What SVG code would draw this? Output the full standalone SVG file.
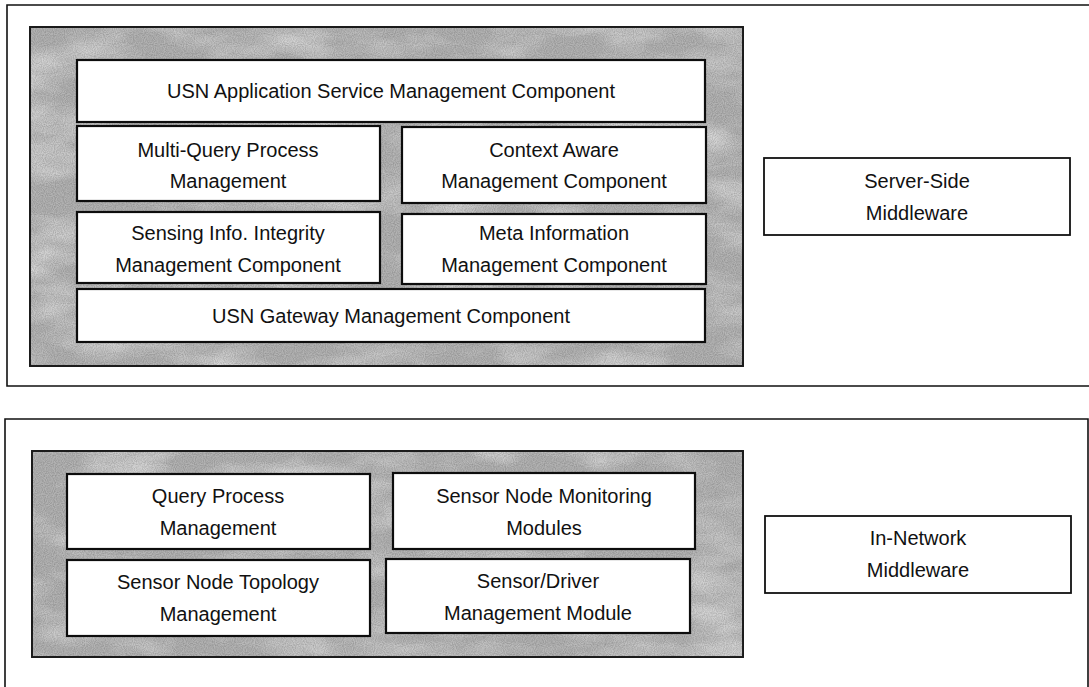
<svg xmlns="http://www.w3.org/2000/svg" width="1089" height="687" viewBox="0 0 1089 687">
  <defs>
    <style>
      .frame { fill: none; stroke: #111; stroke-width: 1.6; }
      .panel { fill: #b3b3b3; stroke: #1a1a1a; stroke-width: 1.8; }
      .box { fill: #ffffff; stroke: #0d0d0d; stroke-width: 2.2; }
      .side { fill: #ffffff; stroke: #111; stroke-width: 1.8; }
      .lbl { font-family: "Liberation Sans", Arial, sans-serif; font-size: 20px; fill: #111; text-anchor: middle; }
    </style>
    <filter id="mottle" x="0%" y="0%" width="100%" height="100%">
      <feTurbulence type="fractalNoise" baseFrequency="0.012 0.028" numOctaves="4" seed="7" result="n"/>
      <feColorMatrix in="n" type="matrix" values="0 0 0 0 1  0 0 0 0 1  0 0 0 0 1  1.9 0 0 0 -0.78" result="light"/>
      <feComposite in="light" in2="SourceAlpha" operator="in"/>
    </filter>
    <filter id="grain" x="0%" y="0%" width="100%" height="100%">
      <feTurbulence type="fractalNoise" baseFrequency="0.9" numOctaves="1" seed="3" result="g"/>
      <feColorMatrix in="g" type="matrix" values="0 0 0 0 0  0 0 0 0 0  0 0 0 0 0  1.4 0 0 0 -0.45" result="dark"/>
      <feComposite in="dark" in2="SourceAlpha" operator="in"/>
    </filter>
  </defs>

  <rect width="1089" height="687" fill="#ffffff"/>

  <!-- outer frames -->
  <g id="server-frame">
    <path class="frame" d="M1089,5 H7 V386 H1089"/>
  </g>
  <g id="innet-frame">
    <path class="frame" d="M5,687 V419 H1088 V687"/>
  </g>

  <!-- shaded panels -->
  <g id="server-panel">
    <rect class="panel" x="30" y="27" width="713" height="339"/>
    <rect x="30" y="27" width="713" height="339" fill="#fff" opacity="0.6" filter="url(#mottle)"/>
    <rect x="30" y="27" width="713" height="339" fill="#000" opacity="0.25" filter="url(#grain)"/>
    <rect x="30" y="27" width="713" height="339" fill="none" stroke="#1a1a1a" stroke-width="1.8"/>
  </g>
  <g id="innet-panel">
    <rect class="panel" x="32" y="451" width="711" height="206"/>
    <rect x="32" y="451" width="711" height="206" fill="#fff" opacity="0.6" filter="url(#mottle)"/>
    <rect x="32" y="451" width="711" height="206" fill="#000" opacity="0.25" filter="url(#grain)"/>
    <rect x="32" y="451" width="711" height="206" fill="none" stroke="#1a1a1a" stroke-width="1.8"/>
  </g>

  <!-- server-side components -->
  <g id="usn-app">
    <rect class="box" x="77" y="60" width="628" height="62"/>
    <text class="lbl" x="391" y="98">USN Application Service Management Component</text>
  </g>
  <g id="multi-query">
    <rect class="box" x="77" y="126" width="303" height="75"/>
    <text class="lbl" x="228" y="157">Multi-Query Process</text>
    <text class="lbl" x="228" y="188">Management</text>
  </g>
  <g id="context-aware">
    <rect class="box" x="402" y="127" width="304" height="76"/>
    <text class="lbl" x="554" y="157">Context Aware</text>
    <text class="lbl" x="554" y="188">Management Component</text>
  </g>
  <g id="sensing-integrity">
    <rect class="box" x="77" y="212" width="303" height="71"/>
    <text class="lbl" x="228" y="240">Sensing Info. Integrity</text>
    <text class="lbl" x="228" y="272">Management Component</text>
  </g>
  <g id="meta-info">
    <rect class="box" x="402" y="214" width="304" height="70"/>
    <text class="lbl" x="554" y="240">Meta Information</text>
    <text class="lbl" x="554" y="272">Management Component</text>
  </g>
  <g id="usn-gateway">
    <rect class="box" x="77" y="289" width="628" height="53"/>
    <text class="lbl" x="391" y="323">USN Gateway Management Component</text>
  </g>
  <g id="server-side">
    <rect class="side" x="764" y="158" width="306" height="77"/>
    <text class="lbl" x="917" y="188">Server-Side</text>
    <text class="lbl" x="917" y="220">Middleware</text>
  </g>

  <!-- in-network components -->
  <g id="query-process">
    <rect class="box" x="67" y="474" width="303" height="75"/>
    <text class="lbl" x="218" y="503">Query Process</text>
    <text class="lbl" x="218" y="535">Management</text>
  </g>
  <g id="sensor-monitoring">
    <rect class="box" x="393" y="473" width="302" height="76"/>
    <text class="lbl" x="544" y="503">Sensor Node Monitoring</text>
    <text class="lbl" x="544" y="535">Modules</text>
  </g>
  <g id="sensor-topology">
    <rect class="box" x="67" y="560" width="303" height="76"/>
    <text class="lbl" x="218" y="589">Sensor Node Topology</text>
    <text class="lbl" x="218" y="621">Management</text>
  </g>
  <g id="sensor-driver">
    <rect class="box" x="386" y="559" width="304" height="74"/>
    <text class="lbl" x="538" y="588">Sensor/Driver</text>
    <text class="lbl" x="538" y="620">Management Module</text>
  </g>
  <g id="in-network">
    <rect class="side" x="765" y="516" width="306" height="77"/>
    <text class="lbl" x="918" y="545">In-Network</text>
    <text class="lbl" x="918" y="577">Middleware</text>
  </g>

  <g id="connectors"></g>
</svg>
